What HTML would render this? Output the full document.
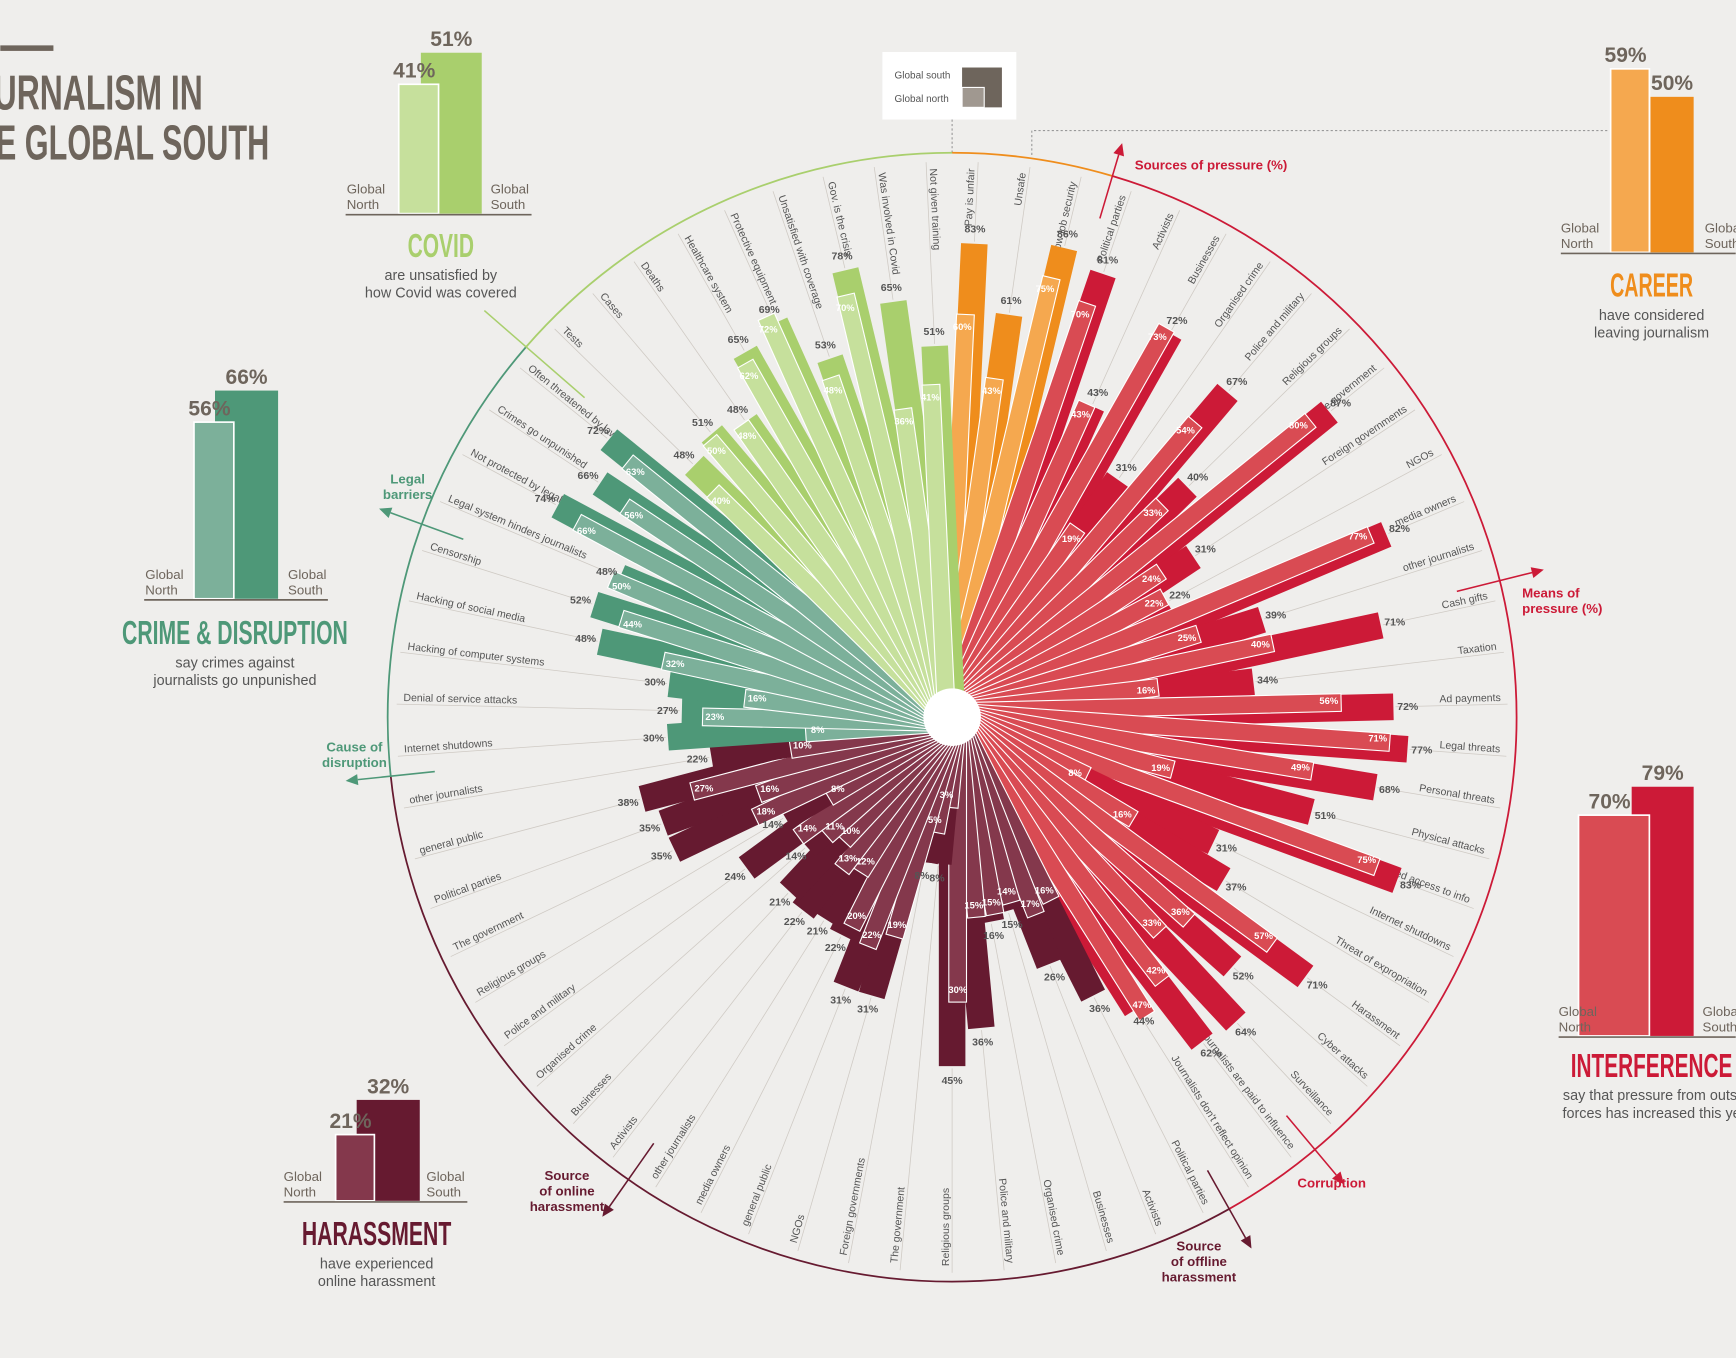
<!DOCTYPE html>
<html><head><meta charset="utf-8"><style>
html,body{margin:0;padding:0;background:#efeeec;}
svg{display:block;}
text{font-family:"Liberation Sans",sans-serif;}
.cond{font-family:"Liberation Sans",sans-serif;font-weight:bold;}
</style></head><body>
<svg id="chart" xmlns="http://www.w3.org/2000/svg" width="1736" height="1358" viewBox="0 0 1568 1227">
<rect x="0" y="0" width="1568" height="1227" fill="#efeeec"/>
<g>
<rect x="0" y="41" width="48" height="5" fill="#6e655c"/>
<text x="-6" y="99" class="cond" font-size="44" fill="#6e655c" textLength="189" lengthAdjust="spacingAndGlyphs">URNALISM IN</text>
<text x="-4" y="144" class="cond" font-size="44" fill="#6e655c" textLength="247" lengthAdjust="spacingAndGlyphs">E GLOBAL SOUTH</text>
</g>
<g>
<rect x="797" y="47" width="121" height="61" fill="#fff"/>
<line x1="860" y1="108" x2="860" y2="140" stroke="#999" stroke-dasharray="2,2"/>
<text x="808" y="71" font-size="9" fill="#555">Global south</text>
<text x="808" y="92" font-size="9" fill="#555">Global north</text>
<rect x="869" y="61" width="36" height="36" fill="#6e655c"/>
<rect x="869" y="79" width="20" height="18" fill="#a09890" stroke="#fff" stroke-width="1"/>
</g>
<g id="radial"></g>
<g id="panels"></g>
</svg>
<script>
const categories = ["Pay is unfair","Unsafe","Low job security",
"Political parties","Activists","Businesses","Organised crime","Police and military","Religious groups","The government","Foreign governments","NGOs","media owners","other journalists",
"Cash gifts","Taxation","Ad payments","Legal threats","Personal threats","Physical attacks","Restricted access to info","Internet shutdowns","Threat of expropriation","Harassment","Cyber attacks","Surveillance",
"Journalists are paid to influence","Journalists don't reflect opinion",
"Political parties","Activists","Businesses","Organised crime","Police and military","Religious groups","The government","Foreign governments","NGOs","general public","media owners","other journalists",
"Activists","Businesses","Organised crime","Police and military","Religious groups","The government","Political parties","general public","other journalists",
"Internet shutdowns","Denial of service attacks","Hacking of computer systems","Hacking of social media","Censorship",
"Legal system hinders journalists","Not protected by legal system","Crimes go unpunished","Often threatened by lawsuits",
"Tests","Cases","Deaths","Healthcare system","Protective equipment","Unsatisfied with coverage","Gov. is the crisis","Was involved in Covid","Not given training"];
const southValues = [83,61,86,
81,43,72,31,67,40,87,31,22,82,39,
71,34,72,77,68,51,83,31,37,71,52,64,
62,44,
36,26,15,16,36,45,8,8,31,31,22,21,
22,21,14,24,14,35,35,38,22,
30,27,30,48,52,
48,74,66,72,
48,51,48,65,69,53,78,65,51];
const northValues = [60,43,75,
70,43,73,19,54,33,80,24,22,77,25,
40,16,56,71,49,19,75,8,16,57,36,33,
42,47,
16,17,14,15,15,30,3,5,19,22,20,12,
13,10,11,14,8,18,16,27,10,
8,23,16,32,44,
50,66,56,63,
40,50,48,62,72,48,70,36,41];
const groupOf = ["career","career","career",
"int","int","int","int","int","int","int","int","int","int","int",
"int","int","int","int","int","int","int","int","int","int","int","int",
"int","int",
"har","har","har","har","har","har","har","har","har","har","har","har",
"har","har","har","har","har","har","har","har","har",
"crime","crime","crime","crime","crime",
"crime","crime","crime","crime",
"covid","covid","covid","covid","covid","covid","covid","covid","covid"];
const panelNames = ["covid","crime","career","interference","harassment"];
const panelNorth = [41,56,59,70,21];
const panelSouth = [51,66,50,79,32];

const colors = {career:["#ef8d1c","#f5a84f"],int:["#cc1a37","#d94b53"],har:["#661a30","#84384c"],crime:["#4e9878","#7cb09a"],covid:["#a9cf6d","#c6e09c"]};
const NS="http://www.w3.org/2000/svg";
const cx=860, cy=648, R=510, K=47;
const N=categories.length, step=360/N;
const rad=v=>K*Math.sqrt(v);
function mk(tag,attrs,parent){const e=document.createElementNS(NS,tag);for(const k in attrs)e.setAttribute(k,attrs[k]);parent.appendChild(e);return e;}
function pt(r,deg){const a=deg*Math.PI/180;return [cx+r*Math.sin(a),cy-r*Math.cos(a)];}
const g=document.getElementById('radial');

const arcs=[["covid",311,360,"#a9cf6d"],["career",0,16.5,"#ef8d1c"],["int",16.5,150.6,"#cc1a37"],["har",150.6,264,"#661a30"],["crime",264,311,"#4e9878"]];
arcs.forEach(a=>{const p1=pt(R,a[1]),p2=pt(R,a[2]);const large=(a[2]-a[1])>180?1:0;
const p=mk('path',{d:`M${p1[0]},${p1[1]} A${R},${R} 0 ${large} 1 ${p2[0]},${p2[1]}`,fill:'none',stroke:a[3],'stroke-width':1.6},g);

});
const bounds=[[311,"#a9cf6d",440,560],[16.5,"#cc1a37",470,530],[76,"#cc1a37",470,540],[140,"#cc1a37",470,540],[150.6,"#661a30",470,540],[215,"#661a30",470,540],[264,"#4e9878",470,540],[290,"#4e9878",470,540]];
bounds.forEach((b,i)=>{const p1=pt(b[2],b[0]),p2=pt(b[3],b[0]);
const l=mk('line',{x1:p1[0],y1:p1[1],x2:p2[0],y2:p2[1],stroke:b[1],'stroke-width':1.4},g);


if(i>0){const t=mk('path',{d:'M-5,0 L5,0 L0,-11 Z',fill:b[1],transform:`translate(${p2[0]},${p2[1]}) rotate(${b[0]})`},g);

}});

for(let i=0;i<N;i++){const th=(i+0.5)*step;const rs=rad(southValues[i]);
const p1=pt(rs+2,th),p2=pt(R-8,th);
const l=mk('line',{x1:p1[0],y1:p1[1],x2:p2[0],y2:p2[1],stroke:'#cfcac4','stroke-width':0.7},g);


const right=th<180;const pp=pt(R-14,th);
const t=mk('text',{x:pp[0],y:pp[1],'font-size':9.5,fill:'#555','text-anchor':right?'end':'start',dy:-3,transform:`rotate(${right?th-90:th+90},${pp[0]},${pp[1]})`},g);
t.textContent=categories[i];

}

for(let i=0;i<N;i++){const th=(i+0.5)*step;const c=colors[groupOf[i]];
const rs=rad(southValues[i]),rn=rad(northValues[i]);
const bs=mk('rect',{x:cx-12,y:cy-rs,width:24,height:rs,fill:c[0],transform:`rotate(${th},${cx},${cy})`},g);


const bn=mk('rect',{x:cx-13,y:cy-rn,width:16,height:rn,fill:c[1],stroke:'#fff','stroke-width':1,transform:`rotate(${th},${cx},${cy})`},g);

}
for(let i=0;i<N;i++){const th=(i+0.5)*step;
const ps=pt(rad(southValues[i])+13,th);
const ts=mk('text',{x:ps[0],y:ps[1]+3,'font-size':9.5,'font-weight':'bold',fill:'#555','text-anchor':'middle'},g);
ts.textContent=southValues[i]+'%';


const pn=pt(rad(northValues[i])-11,th-1.2);
const tn=mk('text',{x:pn[0],y:pn[1]+3,'font-size':8.5,'font-weight':'bold',fill:'#fff','text-anchor':'middle'},g);
tn.textContent=northValues[i]+'%';

}
const hub=mk('circle',{cx:cx,cy:cy,r:26,fill:'#fff'},g);



const secs=[["Sources of pressure (%)",1025,153,"start","#cc1a37"],["Means of",1375,540,"start","#cc1a37"],["pressure (%)",1375,554,"start","#cc1a37"],["Corruption",1172,1073,"start","#cc1a37"],
["Source",1083,1130,"middle","#661a30"],["of offline",1083,1144,"middle","#661a30"],["harassment",1083,1158,"middle","#661a30"],
["Source",512,1066,"middle","#661a30"],["of online",512,1080,"middle","#661a30"],["harassment",512,1094,"middle","#661a30"],
["Cause of",320,679,"middle","#4e9878"],["disruption",320,693,"middle","#4e9878"],["Legal",368,437,"middle","#4e9878"],["barriers",368,451,"middle","#4e9878"]];
secs.forEach(s=>{const t=mk('text',{x:s[1],y:s[2],'font-size':12,'font-weight':'bold',fill:s[4],'text-anchor':s[3]},g);t.textContent=s[0];

});

const P=document.getElementById('panels');
const pcfg=[
 {n:"COVID",tl:60,sub:["are unsatisfied by","how Covid was covered"],base:193,nx:360,nw:36,sx:380,sw:55,sc:2.85,c:["#c6e09c","#a9cf6d"],tx:398,ty:232,lx:[313,443],line:[312,480]},
 {n:"CRIME & DISRUPTION",tl:204,sub:["say crimes against","journalists go unpunished"],base:541,nx:175,nw:36,sx:194,sw:57,sc:2.85,c:["#7cb09a","#4e9878"],tx:212,ty:582,lx:[131,260],line:[130,296]},
 {n:"CAREER",tl:75,sub:["have considered","leaving journalism"],base:228,nx:1455,nw:35,sx:1491,sw:39,sc:2.81,c:["#f5a84f","#ef8d1c"],tx:1492,ty:268,lx:[1410,1540],line:[1410,1568]},
 {n:"INTERFERENCE",tl:146,sub:["say that pressure from outsi","forces has increased this ye"],base:936,nx:1426,nw:64,sx:1474,sw:56,sc:2.85,c:["#d94b53","#cc1a37"],tx:1492,ty:973,lx:[1408,1538],line:[1408,1568]},
 {n:"HARASSMENT",tl:135,sub:["have experienced","online harassment"],base:1085,nx:303,nw:35,sx:322,sw:57,sc:2.85,c:["#84384c","#661a30"],tx:340,ty:1125,lx:[256,385],line:[256,422]}];
pcfg.forEach((p,i)=>{const gp=mk('g',{},P);


const hn=panelNorth[i]*p.sc, hs=panelSouth[i]*p.sc;
const b2=mk('rect',{x:p.sx,y:p.base-hs,width:p.sw,height:hs,fill:p.c[1]},gp);


const b1=mk('rect',{x:p.nx,y:p.base-hn,width:p.nw,height:hn,fill:p.c[0],stroke:'#fff','stroke-width':1.5},gp);


const ln=mk('line',{x1:p.line[0],y1:p.base+1,x2:p.line[1],y2:p.base+1,stroke:'#6e655c','stroke-width':1.5},gp);


const vn=mk('text',{x:p.nx+p.nw/2-4,y:p.base-hn-6,'font-size':19,fill:'#6e655c','text-anchor':'middle','font-weight':'bold'},gp);vn.textContent=panelNorth[i]+'%';


const vs=mk('text',{x:p.sx+p.sw/2,y:p.base-hs-6,'font-size':19,fill:'#6e655c','text-anchor':'middle','font-weight':'bold'},gp);vs.textContent=panelSouth[i]+'%';


[["Global",0],["North",14]].forEach(w=>{const t=mk('text',{x:p.lx[0],y:p.base-18+w[1],'font-size':12,fill:'#6e655c'},gp);t.textContent=w[0];

});
[["Global",0],["South",14]].forEach(w=>{const t=mk('text',{x:p.lx[1],y:p.base-18+w[1],'font-size':12,fill:'#6e655c'},gp);t.textContent=w[0];

});
const tt=mk('text',{x:p.tx-p.tl/2,y:p.ty,'font-size':30,fill:p.c[1],class:'cond',textLength:p.tl,lengthAdjust:'spacingAndGlyphs'},gp);tt.textContent=p.n;


p.sub.forEach((s,k)=>{const t=mk('text',{x:p.tx,y:p.ty+21+k*16,'font-size':13,fill:'#555','text-anchor':'middle'},gp);t.textContent=s;

});
});
const dc=mk('path',{d:'M932,140 L932,118 L1452,118',fill:'none',stroke:'#999','stroke-dasharray':'2,2'},P);


</script>
</body></html>
